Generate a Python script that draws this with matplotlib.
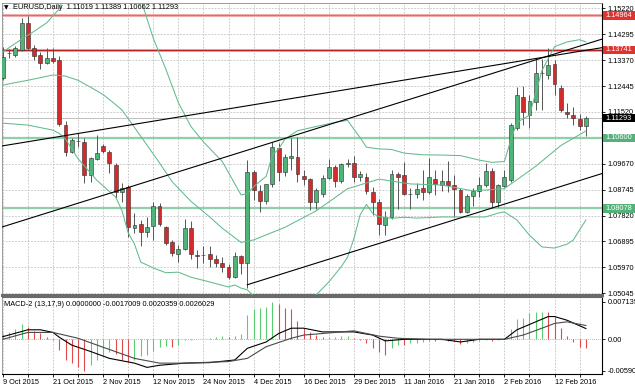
import numpy as np
import matplotlib
matplotlib.use("Agg")
import matplotlib.pyplot as plt
import matplotlib.transforms as mtransforms
from matplotlib.patches import Rectangle

plt.rcParams['font.family'] = ['Liberation Sans', 'DejaVu Sans']

# --- EURUSD daily bars, 9 Oct 2015 .. 19 Feb 2016 ---
opens = [1.1272, 1.1362, 1.1355, 1.1373, 1.1471, 1.1381, 1.1355, 1.1326, 1.1343, 1.1337,
         1.1105, 1.1010, 1.1049, 1.1046, 1.0927, 1.0984, 1.1030, 1.1010, 1.0963, 1.0865,
         1.0885, 1.0738, 1.0751, 1.0724, 1.0746, 1.0815, 1.0741, 1.0689, 1.0645, 1.0663,
         1.0737, 1.0640, 1.0641, 1.0644, 1.0626, 1.0612, 1.0597, 1.0564, 1.0638, 1.0614,
         1.0939, 1.0871, 1.0835, 1.0893, 1.1022, 1.0939, 1.0987, 1.0992, 1.0922, 1.0912,
         1.0829, 1.0859, 1.0916, 1.0954, 1.0907, 1.0966, 1.0968, 1.0918, 1.0918, 1.0867,
         1.0832, 1.0748, 1.0776, 1.0932, 1.0927, 1.0860, 1.0859, 1.0880, 1.0865, 1.0914,
         1.0892, 1.0904, 1.0890, 1.0873, 1.0796, 1.0852, 1.0869, 1.0890, 1.0941, 1.0831,
         1.0887, 1.0910, 1.1094, 1.1205, 1.1142, 1.1189, 1.1290, 1.1284, 1.1323, 1.1238,
         1.1153, 1.1141, 1.1127, 1.11019]
highs = [1.1385, 1.1378, 1.1386, 1.1486, 1.1495, 1.1392, 1.1366, 1.1379, 1.1379, 1.1350,
         1.1118, 1.1058, 1.1076, 1.1060, 1.0992, 1.1070, 1.1038, 1.1016, 1.0969, 1.0898,
         1.0891, 1.0790, 1.0766, 1.0777, 1.0830, 1.0826, 1.0744, 1.0694, 1.0676, 1.0768,
         1.0761, 1.0659, 1.0673, 1.0675, 1.0641, 1.0635, 1.0610, 1.0653, 1.0641, 1.0981,
         1.0945, 1.0890, 1.0895, 1.1046, 1.1040, 1.1003, 1.1060, 1.1064, 1.0945, 1.0915,
         1.0880, 1.0926, 1.0983, 1.0962, 1.0970, 1.0985, 1.0993, 1.0940, 1.0935, 1.0885,
         1.0840, 1.0800, 1.0943, 1.0939, 1.0974, 1.0881, 1.0900, 1.0945, 1.0987, 1.0945,
         1.0945, 1.0978, 1.0927, 1.0880, 1.0860, 1.0880, 1.0920, 1.0968, 1.0951, 1.0895,
         1.0945, 1.1114, 1.1242, 1.1245, 1.1212, 1.1343, 1.1340, 1.1379, 1.1339, 1.1248,
         1.1183, 1.1168, 1.1146, 1.11389]
lows = [1.1265, 1.1345, 1.1348, 1.1369, 1.1373, 1.1337, 1.1304, 1.1322, 1.1328, 1.1102,
        1.0995, 1.1005, 1.1028, 1.0897, 1.0903, 1.0980, 1.1005, 1.0933, 1.0844, 1.0832,
        1.0705, 1.0719, 1.0673, 1.0707, 1.0695, 1.0745, 1.0677, 1.0636, 1.0617, 1.0660,
        1.0628, 1.0594, 1.0612, 1.0598, 1.0600, 1.0580, 1.0557, 1.0560, 1.0574, 1.0524,
        1.0838, 1.0796, 1.0825, 1.0885, 1.0905, 1.0925, 1.0945, 1.0903, 1.0891, 1.0801,
        1.0805, 1.0848, 1.0911, 1.0885, 1.0900, 1.0955, 1.0903, 1.0905, 1.0860, 1.0785,
        1.0711, 1.0713, 1.0770, 1.0804, 1.0855, 1.0804, 1.0845, 1.0838, 1.0859, 1.0855,
        1.0870, 1.0865, 1.0778, 1.0790, 1.0790, 1.0816, 1.0850, 1.0885, 1.0810, 1.0811,
        1.0885, 1.0902, 1.1087, 1.1105, 1.1095, 1.1159, 1.1160, 1.1270, 1.1212, 1.1151,
        1.1129, 1.1106, 1.1088, 1.10662]
closes = [1.1349, 1.1363, 1.1379, 1.1468, 1.1381, 1.1352, 1.1326, 1.1343, 1.1335, 1.1109,
          1.1010, 1.1052, 1.1050, 1.0927, 1.0987, 1.1005, 1.1014, 1.0969, 1.0867, 1.0880,
          1.0742, 1.0748, 1.0724, 1.0741, 1.0815, 1.0753, 1.0685, 1.0649, 1.0662, 1.0737,
          1.0645, 1.0639, 1.0643, 1.0626, 1.0612, 1.0597, 1.0564, 1.0638, 1.0614, 1.0939,
          1.0874, 1.0835, 1.0893, 1.1026, 1.0939, 1.0992, 1.0995, 1.0930, 1.0912, 1.0829,
          1.0874, 1.0916, 1.0957, 1.0907, 1.0965, 1.0968, 1.0918, 1.0930, 1.0871, 1.0832,
          1.0752, 1.0778, 1.0929, 1.0921, 1.0859, 1.0859, 1.0876, 1.0865, 1.0918, 1.0896,
          1.0904, 1.0890, 1.0876, 1.0796, 1.0852, 1.0871, 1.0890, 1.0941, 1.0831, 1.0890,
          1.0918, 1.1105, 1.1213, 1.1153, 1.1190, 1.1292, 1.1292, 1.1320, 1.1253, 1.1159,
          1.1144, 1.1129, 1.1103, 1.11293]

date_labels = ["9 Oct 2015", "21 Oct 2015", "2 Nov 2015", "12 Nov 2015", "24 Nov 2015",
               "4 Dec 2015", "16 Dec 2015", "29 Dec 2015", "11 Jan 2016", "21 Jan 2016",
               "2 Feb 2016", "12 Feb 2016"]
price_ticks = [1.15220, 1.14295, 1.13370, 1.12445, 1.11520, 1.10595,
               1.09670, 1.08745, 1.07820, 1.06895, 1.05970, 1.05045]
hidden_ticks = [1.10595]  # covered by the 1.10600 level label

# Bollinger bands (20), read at selected bars
bb_up_idx = [0, 3, 5, 7, 9, 10, 13, 16, 19, 22, 24, 26, 28, 30, 32, 35, 38, 39, 40, 41,
             42, 43, 44, 45, 47, 50, 53, 55, 56, 57, 58, 60, 62, 64, 67, 70, 73, 76, 78, 80,
             81, 82, 84, 86, 88, 90, 92, 93]
bb_up = [1.1366, 1.1412, 1.1440, 1.1470, 1.1520, 1.1575, 1.1650, 1.1665, 1.1620, 1.1555,
         1.1415, 1.1305, 1.1185, 1.1100, 1.1045, 1.0975, 1.0856, 1.0860, 1.0885, 1.0904,
         1.0922, 1.0998, 1.1020, 1.1055, 1.1085, 1.1100, 1.1115, 1.1122, 1.1090, 1.1060,
         1.1026, 1.1020, 1.1018, 1.1005, 1.0999, 1.0998, 1.0996, 1.0980, 1.0972, 1.0975,
         1.1050, 1.1115, 1.1140, 1.1300, 1.1385, 1.1402, 1.1410, 1.1402]
bb_mid_idx = [0, 4, 8, 10, 12, 14, 16, 18, 19, 20, 22, 25, 27, 30, 33, 35, 38, 40, 45, 50,
              55, 60, 65, 70, 75, 80, 85, 89, 93]
bb_mid = [1.1248, 1.1265, 1.1284, 1.1280, 1.1265, 1.1240, 1.1214, 1.1178, 1.1159, 1.1128,
          1.1065, 1.0970, 1.0903, 1.0833, 1.0777, 1.0737, 1.0686, 1.0695, 1.0740, 1.0799,
          1.0878, 1.0912, 1.0895, 1.0891, 1.0870, 1.0878, 1.0958, 1.1032, 1.1084]
bb_lo_idx = [0, 4, 8, 9, 10, 12, 15, 18, 19, 20, 21, 22, 24, 26, 28, 30, 33, 36, 37, 38,
             39, 40, 41, 44, 47, 50, 52, 54, 55, 56, 57, 58, 59, 60, 62, 64, 66, 70, 73, 77,
             79, 80, 82, 84, 86, 88, 90, 91, 92, 93]
bb_lo = [1.1112, 1.1105, 1.1087, 1.1075, 1.1055, 1.0985, 1.0908, 1.0848, 1.0800, 1.0720,
         1.0680, 1.0616, 1.0595, 1.0578, 1.0580, 1.0562, 1.0545, 1.0527, 1.0534, 1.0523,
         1.0517, 1.0495, 1.0480, 1.0440, 1.0450, 1.0499, 1.0545, 1.0600, 1.0634, 1.0700,
         1.0785, 1.0822, 1.0790, 1.0778, 1.0772, 1.0776, 1.0773, 1.0777, 1.0777, 1.0777,
         1.0791, 1.0795, 1.0766, 1.0712, 1.0670, 1.0666, 1.0680, 1.0695, 1.0731, 1.0766]

# horizontal levels and trend lines
levels = [1.14964, 1.13741, 1.10600, 1.08078]
level_kind = ["res", "res", "sup", "sup"]
bid = 1.11293
trend_a = ([0, 93], [1.1031, 1.1372])
trend_b = ([0, 93], [1.0742, 1.1394])
trend_c = ([39, 93], [1.0535, 1.0914])

# MACD-2 (13,17,9)
macd_hist = [0.00094, 0.00145, 0.00189, 0.00283, 0.00240, 0.00164, 0.00113, 0.00051, -0.00019, -0.00202,
             -0.00391, -0.00453, -0.00516, -0.005903, -0.00491, -0.00397, -0.00321, -0.00232, -0.00278, -0.00391,
             -0.00421, -0.00391, -0.00321, -0.00297, -0.00213, -0.00138, -0.00132, -0.00138, -0.00108, -0.00019,
             -0.00006, 0.00006, 0.00009, 0.00019, 0.00038, 0.00057, 0.00038, 0.00062, 0.00094, 0.00453,
             0.00567, 0.00585, 0.00604, 0.007139, 0.00661, 0.00585, 0.00567, 0.00340, 0.00208, 0.00132,
             0.00085, 0.00042, 0.00047, 0.00053, 0.00057, 0.00062, 0.00019, -0.00009, -0.00076, -0.00170,
             -0.00246, -0.00297, -0.00170, -0.00108, -0.00111, -0.00076, -0.00062, -0.00051, -0.00028, -0.00034,
             -0.00019, -0.00025, -0.00038, -0.00085, -0.00066, -0.00047, -0.00028, -0.00009, -0.00023, -0.00009,
             0.00019, 0.00189, 0.00378, 0.00397, 0.00491, 0.00510, 0.00519, 0.00516, 0.00415, 0.00208,
             0.00062, -0.00043, -0.00138, -0.0017009]
macd_idx = [0, 4, 6, 8, 9, 11, 14, 17, 21, 23, 25, 29, 33, 37, 39, 42, 44, 46, 48, 51,
            56, 59, 61, 64, 70, 73, 76, 80, 82, 85, 87, 88, 90, 93]
macd_main = [0.0005, 0.0018, 0.0018, 0.0013, 0.0004, -0.0011, -0.0023, -0.0036, -0.0045, -0.0053,
             -0.0049, -0.0045, -0.0044, -0.0039, -0.0017, -0.0005, 0.0011, 0.0021, 0.0021, 0.0014,
             0.0014, 0.0008, -0.0003, 0.0, 0.0, -0.0005, 0.0, 0.0, 0.0018, 0.0033,
             0.0043, 0.0043, 0.0036, 0.0020359]
signal_idx = [0, 4, 8, 12, 16, 21, 25, 29, 36, 39, 42, 46, 48, 51, 56, 60, 63, 68, 80, 83,
              86, 88, 90, 93]
macd_signal = [0.0, 0.0013, 0.0013, 0.0002, -0.0015, -0.0036, -0.0045, -0.0045, -0.0042, -0.0036,
               -0.0014, 0.0002, 0.0008, 0.0011, 0.0016, 0.0006, 0.0002, 0.0, 0.0, 0.0008,
               0.0021, 0.0030, 0.0033, 0.0026029]
macd_ticks = [0.007139, 0.0, -0.005903]
macd_tick_labels = ["0.007139", "0.00", "-0.005903"]

# --- figure ---
W, H = 635, 391
fig = plt.figure(figsize=(W / 100, H / 100), dpi=100)
fig.patch.set_facecolor("white")


def px_rect(x0, y0, x1, y1):
    return [x0 / W, 1 - y1 / H, (x1 - x0) / W, (y1 - y0) / H]


ax = fig.add_axes(px_rect(2, 3, 602, 294.5))
axm = fig.add_axes(px_rect(2, 297, 602, 374))

FS = 5.3
GRID = dict(color="#c4c4c4", linestyle=(0, (2.2, 1.6)), linewidth=0.6)
GREEN = "#4fb477"
RED = "#d42a2a"
BAND = "#62bb8c"

idx = np.arange(len(opens))
o = np.array(opens)
h = np.array(highs)
l = np.array(lows)
c = np.array(closes)
up = c >= o
grid_x = list(range(0, len(opens), 4))

for a in (ax, axm):
    a.set_xlim(-0.13, 95.57)
    a.set_xticks(grid_x)
    a.grid(True, axis="x", **GRID)
    a.set_facecolor("white")
    a.yaxis.tick_right()
    a.tick_params(axis="y", direction="out", length=2.5, width=0.6, pad=1.5,
                  labelsize=FS, colors="black")
    a.spines["left"].set_color("#8c8c8c")
    a.spines["left"].set_linewidth(0.6)
    a.spines["right"].set_color("black")
    a.spines["right"].set_linewidth(0.8)

# main price panel
ax.set_ylim(1.05002, 1.15409)
ax.set_yticks(price_ticks)
ax.set_yticklabels(["" if p in hidden_ticks else f"{p:.5f}" for p in price_ticks])
ax.grid(True, axis="y", **GRID)
ax.tick_params(axis="x", length=0, labelbottom=False)
ax.spines["top"].set_color("#8c8c8c")
ax.spines["top"].set_linewidth(0.6)
ax.spines["bottom"].set_color("#6a6a6a")
ax.spines["bottom"].set_linewidth(2.2)

# level lines
for lv, kind in zip(levels, level_kind):
    if kind == "res":
        ax.axhline(lv, color="#f4bcbc", lw=2.2, zorder=2)
        ax.axhline(lv, color="#b82222" if lv < 1.14 else "#e46a6a", lw=1.0, zorder=2)
    else:
        ax.axhline(lv, color="#8fd0aa", lw=1.6, zorder=2)
ax.axhline(bid, color="#c0c0c0", lw=0.7, zorder=2)

# candles
ax.vlines(idx, l, h, color="#555555", lw=0.7, zorder=3)
body = np.maximum(np.abs(c - o), 0.00008)
ax.bar(idx, body, bottom=np.minimum(o, c), width=0.62,
       color=np.where(up, GREEN, RED), edgecolor="#2e2e2e", linewidth=0.4, zorder=4)

# bollinger bands
ax.plot(bb_up_idx, bb_up, color=BAND, lw=0.75, zorder=5)
ax.plot(bb_mid_idx, bb_mid, color=BAND, lw=0.75, zorder=5)
ax.plot(bb_lo_idx, bb_lo, color=BAND, lw=0.75, zorder=5)

# trend lines
ax.axline((trend_a[0][0], trend_a[1][0]), (trend_a[0][1], trend_a[1][1]), color="black", lw=0.8, zorder=6)
ax.axline((trend_b[0][0], trend_b[1][0]), (trend_b[0][1], trend_b[1][1]), color="black", lw=0.8, zorder=6)
slope_c = (trend_c[1][1] - trend_c[1][0]) / (trend_c[0][1] - trend_c[0][0])
x_end = 100
ax.plot([trend_c[0][0], x_end], [trend_c[1][0], trend_c[1][0] + slope_c * (x_end - trend_c[0][0])],
        color="black", lw=0.8, zorder=6)

# price labels on the right axis
blend = mtransforms.blended_transform_factory(ax.transAxes, ax.transData)
box_h = 4.2 / 2801
box_colors = {"res": "#e5312c", "sup": "#52b27a"}
for lv, kind in zip(levels + [bid], level_kind + ["bid"]):
    fc = "black" if kind == "bid" else box_colors[kind]
    ax.add_patch(Rectangle((1.0015, lv - box_h), 0.07, 2 * box_h, transform=blend,
                           facecolor=fc, edgecolor="none", clip_on=False, zorder=10))
    ax.text(1.0055, lv, f"{lv:.5f}", transform=blend, ha="left", va="center",
            fontsize=FS, color="white", clip_on=False, zorder=11)

# macd panel
axm.set_ylim(-0.00655, 0.00799)
axm.set_yticks(macd_ticks)
axm.set_yticklabels(macd_tick_labels)
axm.axhline(0, color="#9a9a9a", lw=0.6, linestyle=(0, (1, 1.5)), zorder=1)
hist = np.array(macd_hist)
rising = np.concatenate([[True], np.diff(hist) > 0])
axm.vlines(idx, 0, hist, colors=np.where(rising, "#5ccc72", "#e04a4a"), lw=0.8, zorder=3)
axm.plot(macd_idx, macd_main, color="black", lw=0.8, zorder=4)
axm.plot(signal_idx, macd_signal, color="#4a4a4a", lw=0.8, zorder=4)
axm.set_xticklabels([date_labels[k // 8] if k % 8 == 0 else "" for k in grid_x])
axm.tick_params(axis="x", direction="out", length=2, width=0.6, pad=1.5,
                labelsize=FS, colors="black")
for lbl in axm.get_xticklabels():
    lbl.set_horizontalalignment("left")
axm.spines["top"].set_color("#6a6a6a")
axm.spines["top"].set_linewidth(0.8)
axm.spines["bottom"].set_color("black")
axm.spines["bottom"].set_linewidth(0.8)

# headers
fig.text(4 / W, 1 - 7.5 / H, "\u25bc", fontsize=4.2, va="center", family=["DejaVu Sans"])
fig.text(13 / W, 1 - 7.5 / H,
         f"EURUSD,Daily  {opens[-1]:.5f} {highs[-1]:.5f} {lows[-1]:.5f} {closes[-1]:.5f}",
         fontsize=FS, va="center")
fig.text(4 / W, 1 - 304 / H, "MACD-2 (13,17,9) 0.0000000 -0.0017009 0.0020359 0.0026029",
         fontsize=FS, va="center")

fig.savefig("out.png", dpi=100)
